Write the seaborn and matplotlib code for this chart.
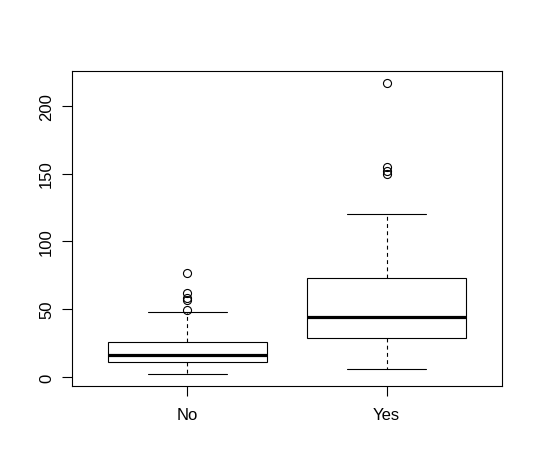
import numpy as np
import pandas as pd
import seaborn as sns
import matplotlib.pyplot as plt

# values (quartiles, whiskers, outliers)
no_vals = [2, 4, 6, 8, 9, 10, 11, 12, 13, 14, 15, 15.5, 16,
           17, 19, 21, 23, 25, 26, 48, 49.5, 56.5, 58, 62, 77]
yes_vals = [6, 12, 17, 21, 24, 27, 29, 32, 35, 38, 40, 42, 44,
            50, 55, 60, 65, 70, 73, 90, 120, 150, 152, 155, 217]
groups = ["No", "Yes"]
yticks = [0, 50, 100, 150, 200]

df = pd.DataFrame({
    "group": ["No"] * len(no_vals) + ["Yes"] * len(yes_vals),
    "value": no_vals + yes_vals,
})

sns.set_style("white")
plt.rcParams["font.family"] = ["Liberation Sans", "DejaVu Sans"]
plt.rcParams["xtick.color"] = "black"
plt.rcParams["ytick.color"] = "black"
plt.rcParams["text.color"] = "black"

fig = plt.figure(figsize=(5.4, 4.77), dpi=100)
ax = fig.add_axes([72 / 540, 1 - 387 / 477, 430 / 540, 315 / 477])

sns.boxplot(data=df, x="group", y="value", order=groups, ax=ax,
            width=0.8, whis=1.5, color="white", linecolor="black",
            linewidth=0.8, fliersize=5.8,
            boxprops=dict(facecolor="white", edgecolor="black"),
            medianprops=dict(color="black", linewidth=2.3),
            whiskerprops=dict(color="black", linestyle=(0, (3.5, 3))),
            capprops=dict(color="black"),
            flierprops=dict(marker="o", markerfacecolor="none",
                            markeredgecolor="black", markeredgewidth=0.8))

lo, hi = min(no_vals + yes_vals), max(no_vals + yes_vals)
pad = (hi - lo) * 0.04
ax.set_ylim(lo - pad, hi + pad)
ax.set_xlim(-0.58, 1.58)
ax.set_yticks(yticks)
ax.set_yticklabels([str(t) for t in yticks], rotation=90, va="center")
ax.set_xlabel("")
ax.set_ylabel("")

for s in ax.spines.values():
    s.set_visible(True)
    s.set_color("black")
    s.set_linewidth(0.8)

ax.tick_params(axis="both", direction="out", length=7, width=0.8,
               color="black", labelcolor="black", labelsize=12,
               left=True, bottom=True)
ax.tick_params(axis="x", pad=8)
ax.tick_params(axis="y", pad=6)

fig.savefig("out.png", dpi=100)
